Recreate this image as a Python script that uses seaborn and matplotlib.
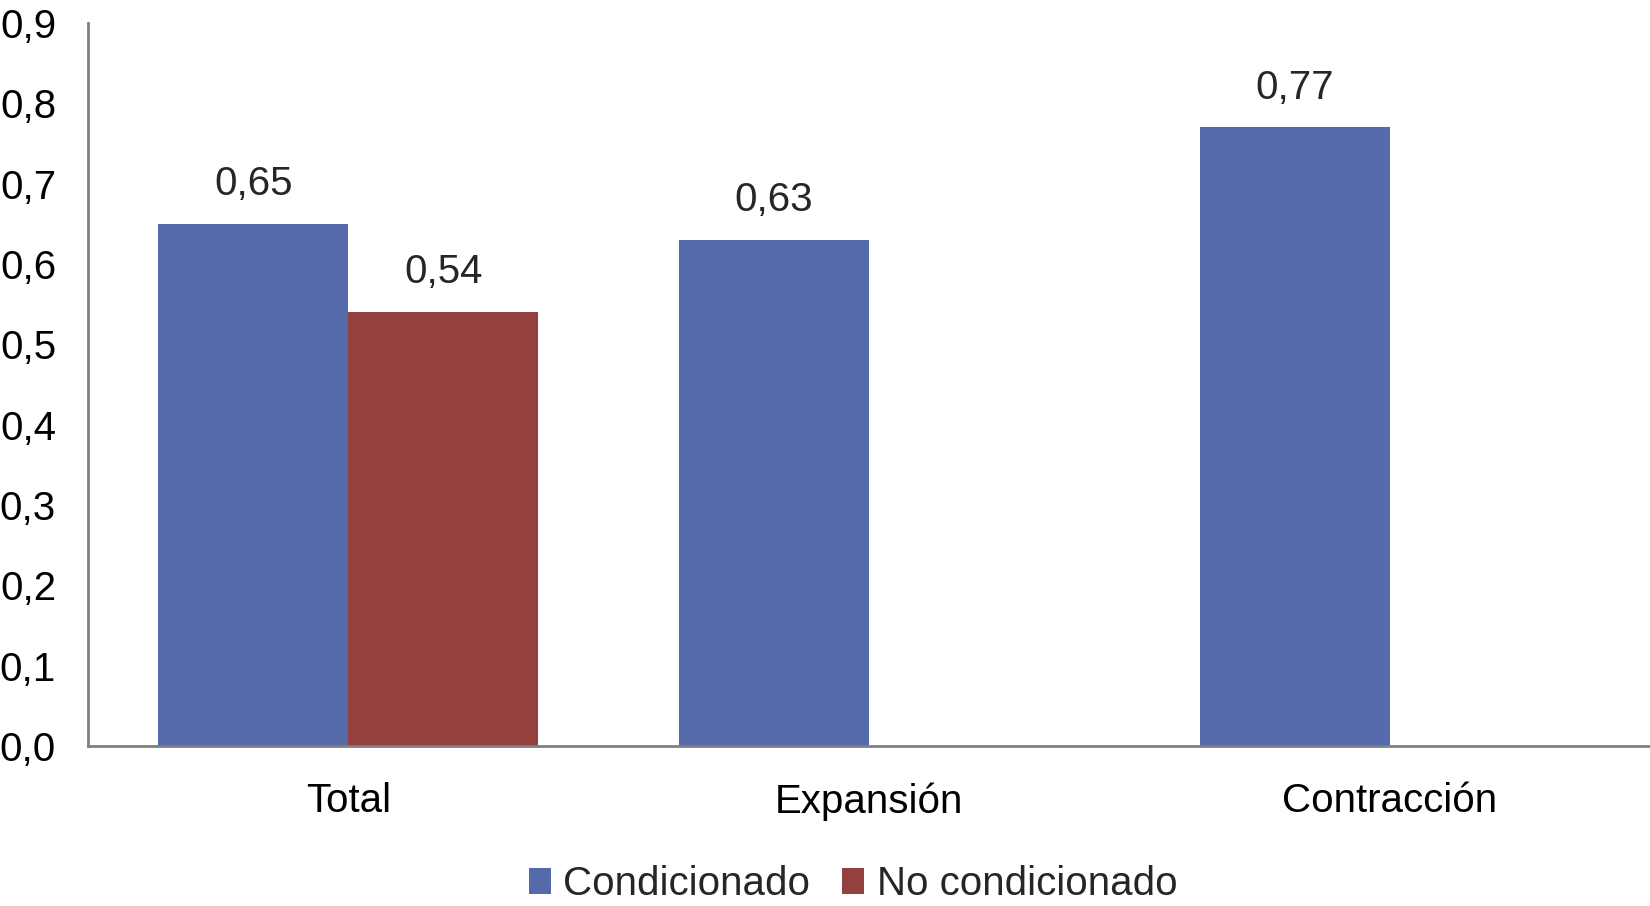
import seaborn as sns
import numpy as np
import pandas as pd
from matplotlib import pyplot as plt
from matplotlib.ticker import FuncFormatter

categorias = ["Total", "Expansión", "Contracción"]
series = ["Condicionado", "No condicionado"]
condicionado = [0.65, 0.63, 0.77]
no_condicionado = [0.54, np.nan, np.nan]
colores = ["#546AAA", "#93403E"]

sns.set_theme(style="white")
plt.rcParams['font.family'] = ['Liberation Sans', 'DejaVu Sans']

df = pd.DataFrame({
    "categoria": categorias * 2,
    "serie": [series[0]] * 3 + [series[1]] * 3,
    "valor": condicionado + no_condicionado,
}).dropna()

fig, ax = plt.subplots(figsize=(16.5, 9.06), dpi=100)
fig.subplots_adjust(left=88 / 1650, right=1.0, bottom=1 - 746 / 906, top=1 - 23 / 906)

sns.barplot(data=df, x="categoria", y="valor", hue="serie",
            order=categorias, hue_order=series, palette=colores,
            width=0.73, saturation=1, errorbar=None, linewidth=0, ax=ax)

for cont in ax.containers:
    etiquetas = [f"{v:.2f}".replace(".", ",") for v in cont.datavalues]
    ax.bar_label(cont, labels=etiquetas, padding=15, fontsize=29)

ax.set_ylim(0, 0.9)
ax.set_xlim(-0.5, 2.5)
ax.set_yticks(np.arange(0, 0.91, 0.1))
ax.yaxis.set_major_formatter(FuncFormatter(lambda v, p: f"{v:.1f}".replace(".", ",")))
ax.set_xlabel("")
ax.set_ylabel("")
ax.tick_params(axis="both", length=0, labelsize=29, colors="black")
ax.tick_params(axis="y", pad=23)
ax.tick_params(axis="x", pad=26)

sns.despine(ax=ax)
for s in ["left", "bottom"]:
    ax.spines[s].set_color("#808080")
    ax.spines[s].set_linewidth(2)

handles, labels = ax.get_legend_handles_labels()
if ax.get_legend() is not None:
    ax.get_legend().remove()
fig.legend(handles, labels, loc="center", bbox_to_anchor=(853 / 1650, 22 / 906),
           ncol=2, frameon=False, fontsize=29, handlelength=0.55, handleheight=0.6,
           handletextpad=0.3, columnspacing=0.8, borderaxespad=0)

plt.savefig("out.png", dpi=100)
plt.close()
